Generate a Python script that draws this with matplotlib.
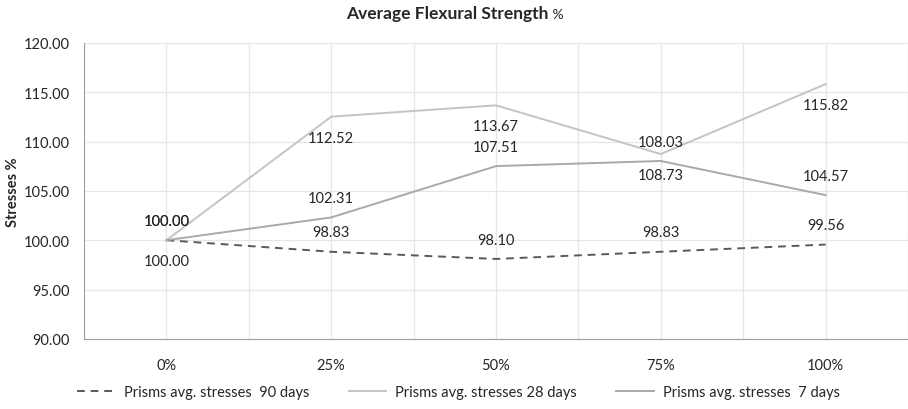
import matplotlib.pyplot as plt
import numpy as np

plt.rcParams['font.family'] = ['Lato', 'DejaVu Sans']

replacement = ['0%', '25%', '50%', '75%', '100%']
stress_90 = [100.00, 98.83, 98.10, 98.83, 99.56]
stress_28 = [100.00, 112.52, 113.67, 108.73, 115.82]
stress_7 = [100.00, 102.31, 107.51, 108.03, 104.57]

fig = plt.figure(figsize=(9.08, 4.10), dpi=100)
ax = fig.add_axes([0.0925, 0.171, 0.9075, 0.722])

x = np.arange(len(replacement))

# series: (values, color, linestyle, label, label offset in points)
series = [
    (stress_90, '#595959', (0, (4, 3)), 'Prisms avg. stresses  90 days', 14),
    (stress_28, '#c4c4c4', '-', 'Prisms avg. stresses 28 days', -15),
    (stress_7, '#a9a9a9', '-', 'Prisms avg. stresses  7 days', 14),
]

for vals, col, ls, lab, off in series:
    ax.plot(x, vals, color=col, linestyle=ls, linewidth=1.4, label=lab)
    for xi, v in zip(x, vals):
        ax.annotate(f'{v:.2f}', (xi, v), xytext=(0, off), textcoords='offset points',
                    ha='center', va='center', fontsize=10.5, color='#262626')

ax.set_xlim(-0.5, 4.47)
ax.set_ylim(90, 120)
ax.set_yticks(np.arange(90, 121, 5))
ax.set_yticklabels([f'{t:.2f}' for t in np.arange(90, 121, 5)])
ax.set_xticks(x)
ax.set_xticklabels(replacement)
ax.set_xticks(np.arange(-0.5, 4.6, 0.5), minor=True)
ax.tick_params(which='both', length=0, labelsize=10.5, colors='#262626', pad=10)
ax.tick_params(axis='x', pad=14)

ax.grid(True, which='major', axis='y', color='#e6e6e6', linewidth=0.9)
ax.grid(True, which='minor', axis='x', color='#e6e6e6', linewidth=0.9)
ax.grid(True, which='major', axis='x', color='#e6e6e6', linewidth=0.9)
ax.set_axisbelow(True)

for side in ['top', 'right']:
    ax.spines[side].set_visible(False)
ax.spines['left'].set_color('#a0a0a0')
ax.spines['bottom'].set_color('#a0a0a0')

ax.set_ylabel('Stresses %', fontsize=10.5, fontweight='bold', color='#262626')
ax.yaxis.set_label_coords(-0.078, 0.5)

fig.text(0.6035, 0.965, 'Average Flexural Strength', ha='right', va='center',
         fontsize=12.5, fontweight='bold', color='#262626')
fig.text(0.605, 0.963, ' %', ha='left', va='center', fontsize=10, color='#262626')

fig.legend(loc='center', bbox_to_anchor=(0.505, 0.042), ncol=3, frameon=False,
           fontsize=10.5, handlelength=2.6, handletextpad=0.6, columnspacing=2.7,
           labelcolor='#262626')

fig.savefig('out.png', dpi=100)
